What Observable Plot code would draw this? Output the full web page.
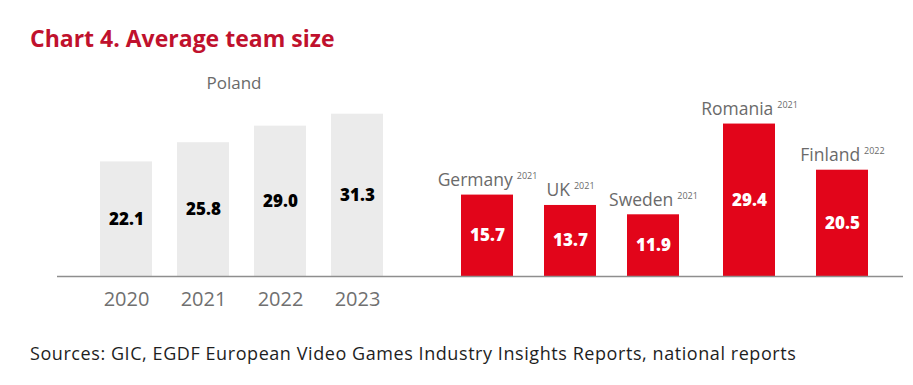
<!DOCTYPE html>
<html>
<head>
<meta charset="utf-8">
<script src="https://cdn.jsdelivr.net/npm/d3@7"></script>
<script src="https://cdn.jsdelivr.net/npm/@observablehq/plot@0.6"></script>
<style>
  body { margin: 0; background: #fff; width: 913px; height: 385px; position: relative; overflow: hidden; font-family: "Open Sans", sans-serif; }
  #title { position: absolute; left: 30px; top: 27px; font-size: 23px; font-weight: 700; color: #c0112d; line-height: 1; white-space: nowrap; }
  #chart { position: absolute; left: 0; top: 60px; display: flex; }
  #chart svg { display: block; }
  #source { position: absolute; left: 30px; top: 344px; font-size: 18px; letter-spacing: 0.57px; color: #1e1e1e; line-height: 1; white-space: nowrap; }
</style>
</head>
<body>
<div id="title">Chart 4. Average team size</div>
<div id="chart"></div>
<div id="source">Sources: GIC, EGDF European Video Games Industry Insights Reports, national reports</div>
<script>
// ---- data ----
const groupLabel = "Poland";
const years = ["2020", "2021", "2022", "2023"];
const polandValues = [22.1, 25.8, 29.0, 31.3];
const countries = ["Germany", "UK", "Sweden", "Romania", "Finland"];
const countryYears = ["2021", "2021", "2021", "2021", "2022"];
const countryValues = [15.7, 13.7, 11.9, 29.4, 20.5];

// ---- build ----
const FONT = "'Open Sans', sans-serif";
const fmt = d3.format(".1f");
const poland = years.map((y, i) => ({label: y, value: polandValues[i]}));
const others = countries.map((c, i) => ({label: c, sup: countryYears[i], value: countryValues[i]}));

const GRAY = "#ebebeb", RED = "#e2051a", AXIS = "#8e8e8e", LABEL = "#6a6a6a";
const yScale = {domain: [0, 37.8], axis: null};

function panel(data, o) {
  const marks = [
    Plot.barY(data, {x: "label", y: "value", fill: o.fill}),
    Plot.ruleY([0], {stroke: AXIS, strokeWidth: 1.5}),
    Plot.text(data, {x: "label", y: d => d.value / 2, text: d => fmt(d.value), fill: o.valueFill,
      fontSize: 17, fontWeight: 800, lineAnchor: "middle"})
  ];
  if (o.countryLabels) {
    marks.push(Plot.text(data, {x: "label", y: "value", text: "label", lineAnchor: "bottom", dy: -9,
      fontSize: 17.5, fill: LABEL}));
  }
  if (o.axis) {
    marks.push(Plot.axisX({tickSize: 0, tickPadding: 15, fontSize: 20, fill: "#707070"}));
    marks.push(Plot.text([groupLabel], {text: d => d, frameAnchor: "top", lineAnchor: "bottom",
      dy: 8, dx: -8, fontSize: 17, fill: LABEL}));
  }
  const svg = Plot.plot({
    width: o.width, height: 250,
    marginLeft: o.marginLeft, marginRight: o.marginRight, marginTop: 20, marginBottom: 34,
    style: {fontFamily: FONT, overflow: "visible", background: "transparent"},
    x: {type: "band", domain: data.map(d => d.label), paddingInner: o.paddingInner,
        paddingOuter: o.paddingOuter, align: o.align, axis: null, label: null},
    y: yScale,
    marks
  });
  if (o.countryLabels) {
    const groups = d3.select(svg).selectAll('g[aria-label="text"]').nodes();
    const labelGroup = groups[groups.length - 1];
    d3.select(labelGroup).selectAll("text").each(function(_, i) {
      d3.select(this).append("tspan").attr("dx", 4).attr("dy", -7)
        .attr("font-size", 9).text(data[i].sup);
    });
  }
  return svg;
}

const chart = document.getElementById("chart");
chart.append(panel(poland, {width: 426, marginLeft: 57, marginRight: 0, paddingInner: 0.331,
  paddingOuter: 0.54, align: 0.5, fill: GRAY, valueFill: "#000", axis: true}));
chart.append(panel(others.slice(0, 3), {width: 275, marginLeft: 0, marginRight: 0, paddingInner: 0.377,
  paddingOuter: 0.335, align: 0.607, fill: RED, valueFill: "#fff", countryLabels: true}));
chart.append(panel(others.slice(3), {width: 212, marginLeft: 0, marginRight: 10, paddingInner: 0.441,
  paddingOuter: 0.306, align: 0.386, fill: RED, valueFill: "#fff", countryLabels: true}));
</script>
</body>
</html>
